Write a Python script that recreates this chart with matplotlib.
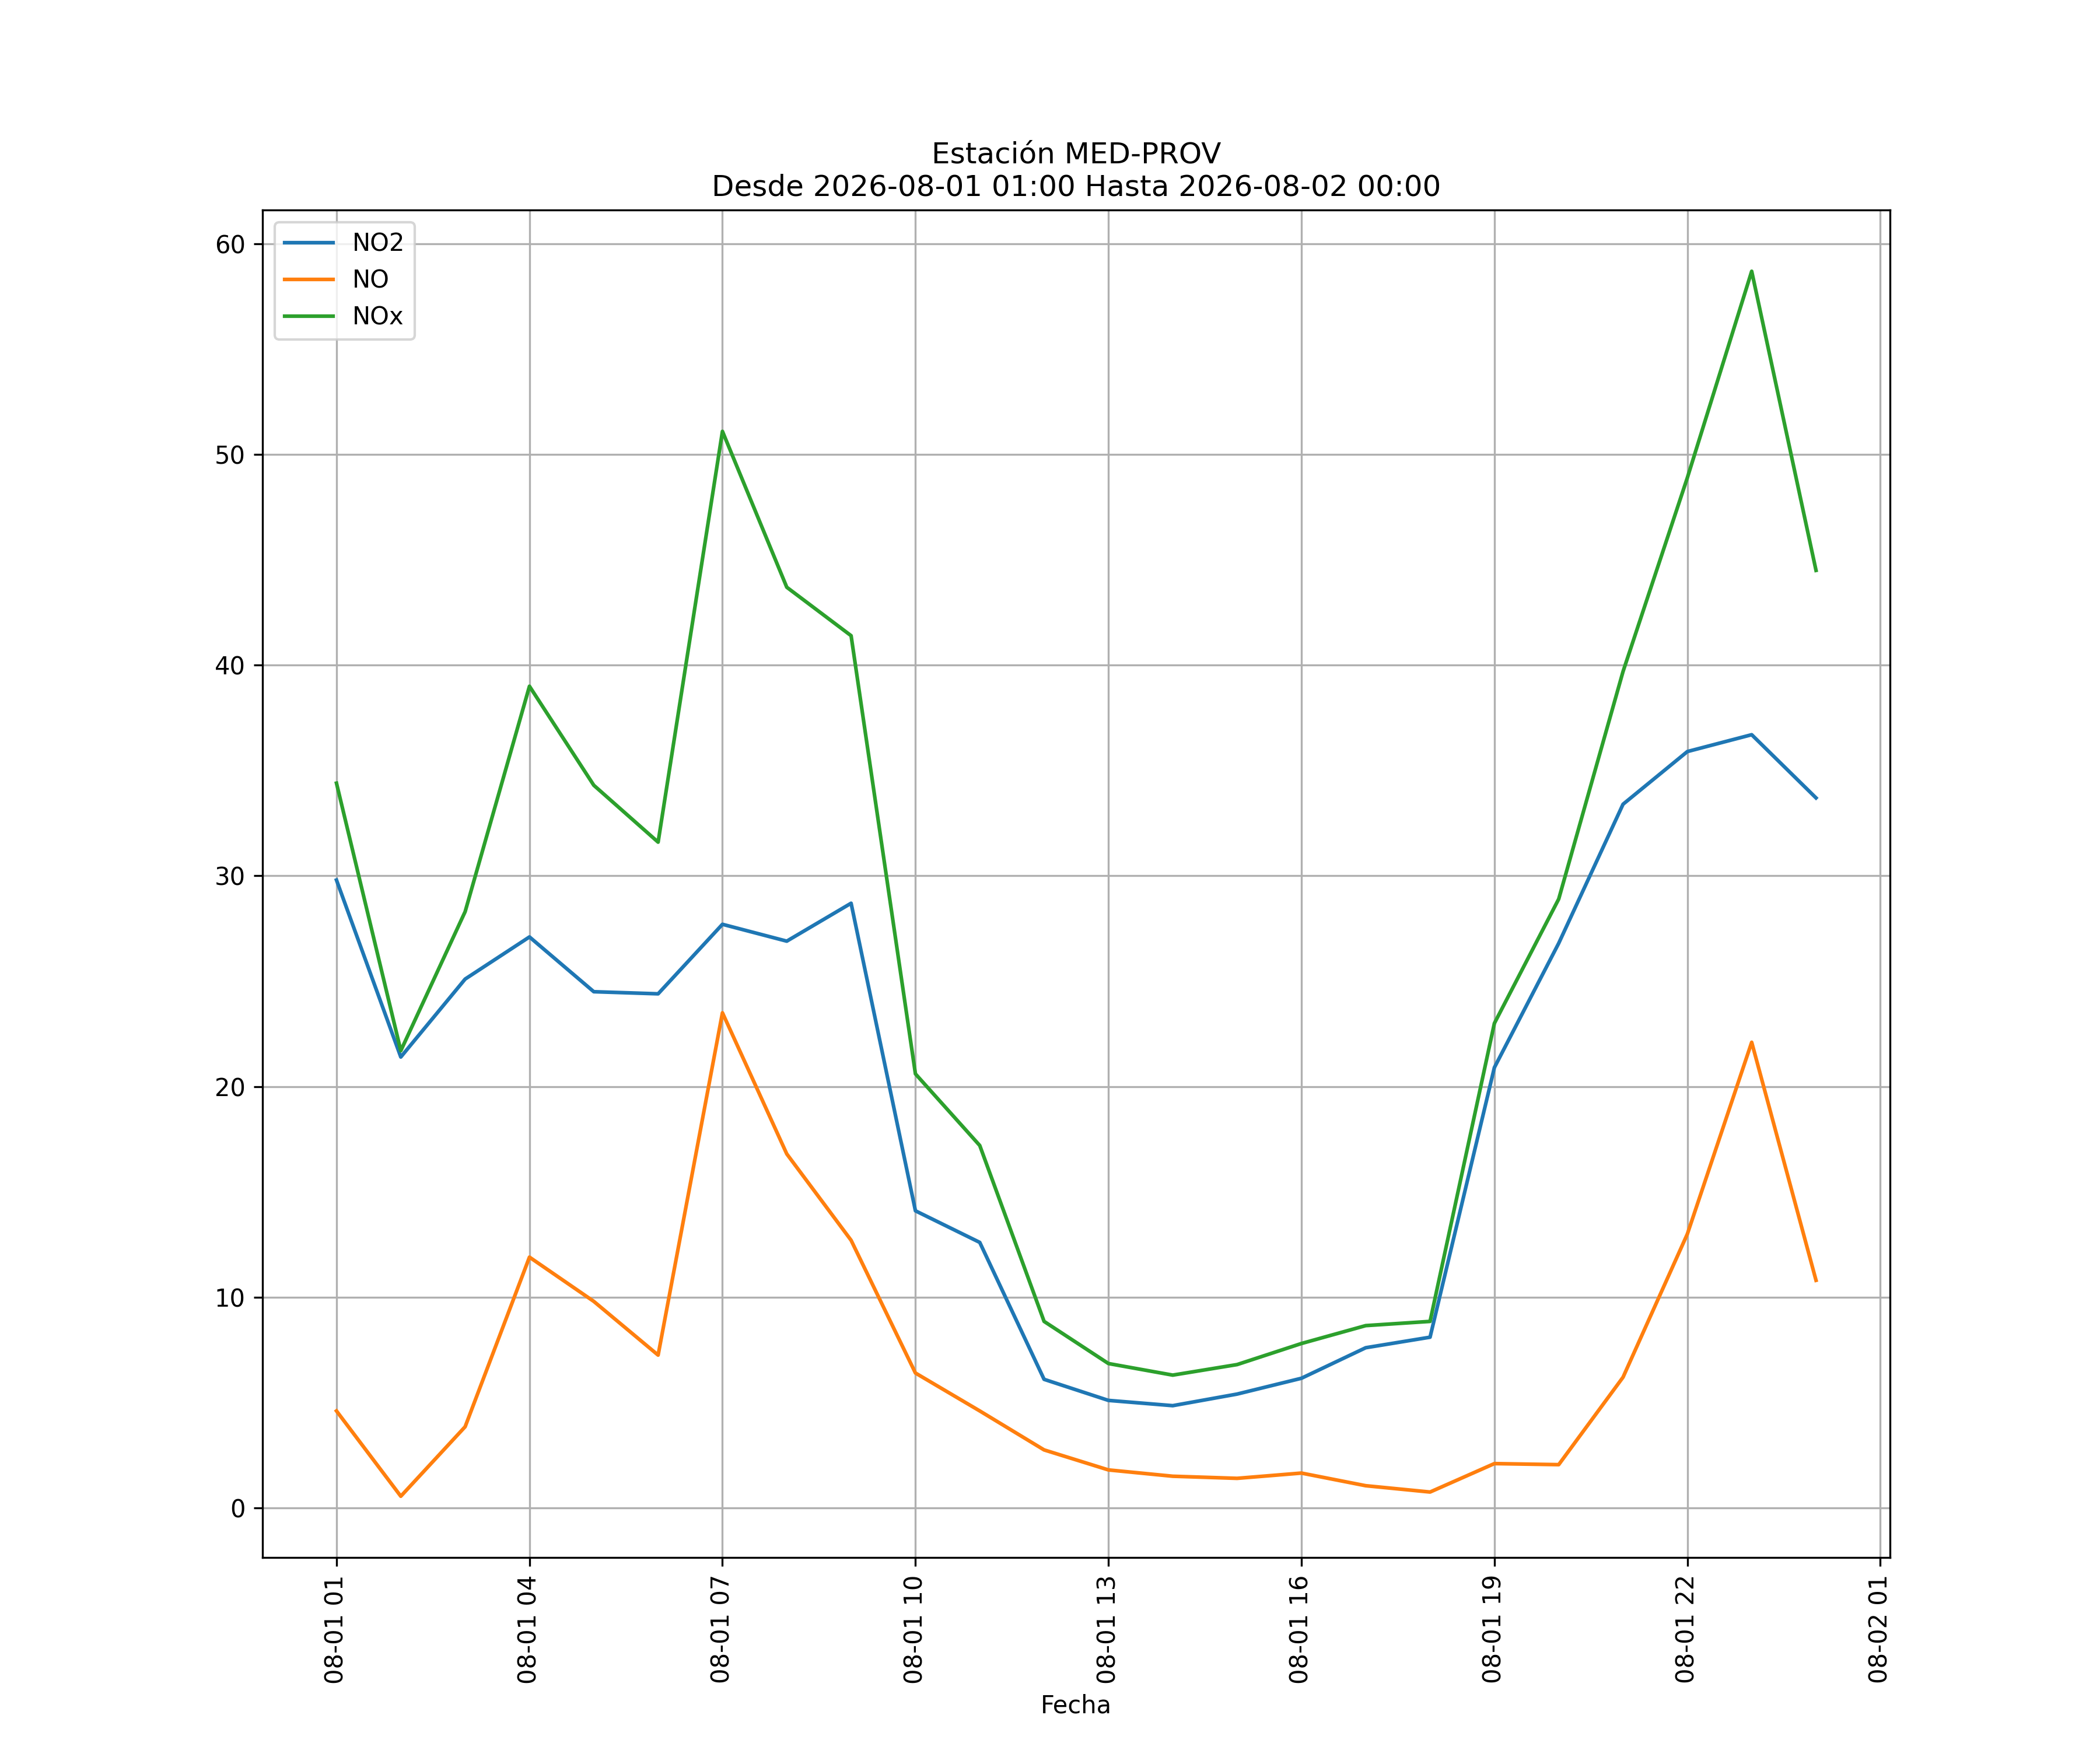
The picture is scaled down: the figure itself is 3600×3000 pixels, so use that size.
import matplotlib
matplotlib.use('Agg')
import matplotlib.pyplot as plt
import matplotlib.dates as mdates
import pandas as pd

fechas = pd.date_range('2026-08-01 01:00', '2026-08-02 00:00', freq='h')
no2 = [29.8, 21.4, 25.1, 27.1, 24.5, 24.4, 27.7, 26.9, 28.7, 14.1, 12.6, 6.1,
       5.1, 4.85, 5.4, 6.15, 7.6, 8.1, 20.9, 26.8, 33.4, 35.9, 36.7, 33.7]
no = [4.6, 0.55, 3.85, 11.9, 9.8, 7.25, 23.5, 16.8, 12.7, 6.4, 4.6, 2.75,
      1.8, 1.5, 1.4, 1.65, 1.05, 0.75, 2.1, 2.05, 6.2, 13.0, 22.1, 10.8]
nox = [34.4, 21.7, 28.3, 39.0, 34.3, 31.6, 51.1, 43.7, 41.4, 20.6, 17.2, 8.85,
       6.85, 6.3, 6.8, 7.8, 8.65, 8.85, 23.0, 28.9, 39.7, 48.9, 58.7, 44.5]


def main():
    fig, ax = plt.subplots(figsize=(12, 10), dpi=300)
    ax.plot(fechas, no2, label='NO2')
    ax.plot(fechas, no, label='NO')
    ax.plot(fechas, nox, label='NOx')
    ax.xaxis.set_major_locator(mdates.HourLocator(byhour=range(1, 24, 3)))
    ax.xaxis.set_major_formatter(mdates.DateFormatter('%m-%d %H'))
    plt.setp(ax.get_xticklabels(), rotation=90)
    ax.set_xlabel('Fecha')
    ax.set_title('Estación MED-PROV\nDesde 2026-08-01 01:00 Hasta 2026-08-02 00:00')
    ax.grid(True)
    ax.legend(loc='upper left')
    fig.savefig('out.png')


if __name__ == '__main__':
    main()
